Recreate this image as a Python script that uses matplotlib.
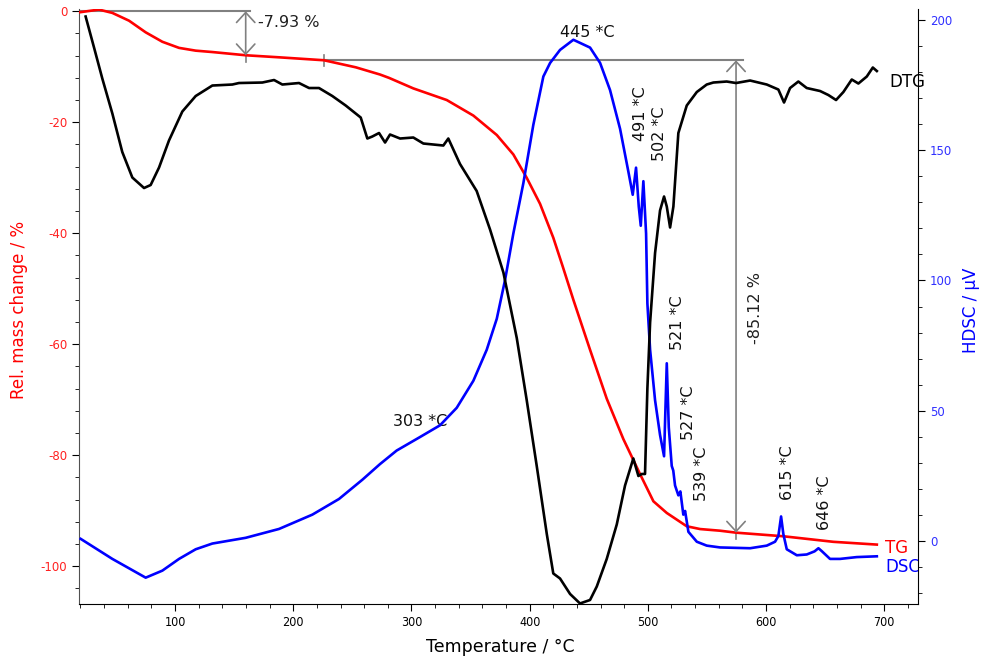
import matplotlib
matplotlib.use('Agg')
import matplotlib.pyplot as plt
from matplotlib.ticker import MultipleLocator

plt.rcParams['font.family'] = ['DejaVu Sans']
plt.rcParams['axes.unicode_minus'] = False

# --- TG (rel. mass change, %) ---
tg_T = [18.8, 35.7, 47, 61.1, 75.2, 89.3, 103.4, 117.5, 131.6, 159.8, 188, 226, 252.9,
        273.4, 281, 301.6, 329.9, 352.4, 372.2, 386.2, 397.5, 408.8, 420, 428, 437,
        451.1, 465.2, 479.3, 493.4, 504.7, 516, 532.9, 544.2, 561.1, 574.6, 614.6,
        656.9, 693.7]
tg = [-0.2, 0.3, -0.3, -1.7, -3.8, -5.5, -6.6, -7.1, -7.35, -7.93, -8.3, -8.83, -10.1,
      -11.4, -12.0, -13.9, -16.0, -18.8, -22.3, -25.8, -30.0, -34.7, -40.8, -46.0, -52.0,
      -61.0, -69.8, -77.1, -83.4, -88.3, -90.4, -92.8, -93.3, -93.6, -93.95, -94.6,
      -95.6, -96.1]

# --- DSC (uV) ---
dsc_T = [20.2, 47, 75.2, 89.3, 103.4, 117.5, 131.6, 159.8, 188, 216.2, 238.7, 258.5,
         273.4, 287.5, 307.3, 324.2, 338.3, 352.4, 363.7, 372.2, 379.2, 386.2, 394.7,
         403.1, 411.6, 417.3, 425.7, 437, 451.1, 459.6, 468, 476.5, 483.5, 487.2, 490,
         492.3, 494, 496.2, 498.5, 499.6, 501.9, 506.1, 510.3, 513.7, 516, 517.7, 520.2,
         521.5, 523, 525.8, 527.5, 530, 531.5, 534.3, 541.4, 549.8, 561.1, 586.5, 600.6,
         607.6, 610.4, 612.7, 614.6, 617.5, 626, 634.4, 641, 644.3, 647.1, 654.1, 662.6,
         676.7, 693.7]
dsc = [0.8, -6.9, -14.1, -11.4, -6.9, -3.2, -1.0, 1.2, 4.6, 10.1, 16.1, 23.5,
       29.5, 34.7, 39.9, 44.4, 51.1, 61.5, 73.4, 85.3, 100.2, 118.0, 137.4,
       159.7, 178.3, 183.5, 188.5, 192.4, 189.4, 183.5, 173.1, 158.2, 141.8, 132.9, 143.3,
       128.4, 121.0, 138.1, 118.0, 91.2, 73.4, 54.0, 40.7, 32.5, 68.2, 43.6, 28.8,
       27.0, 21.3, 17.5, 19.0, 10.1, 11.5, 3.5, -0.3, -1.8, -2.5, -2.8, -1.8,
       -0.3, 1.9, 9.4, 2.7, -3.2, -5.5, -5.2, -4.0, -2.8, -3.9, -6.9, -6.9,
       -6.2, -5.9]

# --- DTG (%/min, own hidden scale) ---
dtg_T = [24.4, 31.5, 38.5, 47, 55.4, 63.9, 73.8, 79.4, 86.5, 94.9, 106.2, 117.5, 131.6,
         148.5, 154.1, 173.9, 183.8, 190.8, 204.9, 213.4, 221.8, 233.1, 244.4, 257.1,
         262.7, 266.9, 272.6, 277.7, 281.9, 290.4, 301.6, 310.1, 327, 331.2, 341.1,
         355.2, 366.5, 377.8, 389.1, 397.5, 406, 414.5, 420, 425.7, 434.2, 442.6, 451.1,
         456.8, 465.2, 473.7, 480.7, 487.7, 492, 494.8, 497.6, 499.6, 501.9, 506.1,
         510.3, 513.7, 516, 518.8, 521.6, 525.8, 532.9, 541.4, 549.8, 555.4, 566.7,
         574.6, 586.5, 600.6, 610.4, 615.2, 620.3, 627.3, 634.4, 645.7, 652.7, 659.2,
         665.4, 672.5, 678.1, 685.2, 690.3, 693.7]
dtg = [0.35, -0.27, -0.89, -1.59, -2.36, -2.87, -3.08, -3.02, -2.67, -2.13, -1.55, -1.24,
       -1.03, -1.01, -0.98, -0.97, -0.92, -1.01, -0.98, -1.08, -1.08, -1.24, -1.43, -1.67,
       -2.09, -2.05, -1.98, -2.17, -2.01, -2.09, -2.07, -2.19, -2.23, -2.09, -2.60,
       -3.14, -3.91, -4.77, -6.08, -7.32, -8.64, -10.0, -10.79, -10.89, -11.2, -11.39,
       -11.32, -11.05, -10.5, -9.81, -9.03, -8.49, -8.84, -8.80, -8.80, -7.09, -5.77,
       -4.38, -3.53, -3.25, -3.45, -3.87, -3.45, -1.98, -1.43, -1.16, -1.01, -0.97,
       -0.95, -0.98, -0.93, -1.01, -1.11, -1.37, -1.08, -0.95, -1.08, -1.14, -1.22,
       -1.32, -1.16, -0.91, -0.99, -0.85, -0.67, -0.74]

# mass loss steps: (start T, end T, start value, change)
step1 = (18.8, 159.8, 0.0, -7.93)
step2 = (226, 574.6, -8.83, -85.12)

# peak labels: (text, T, y on TG scale, rotation)
peak_labels = [
    ('445 *C', 425.7, -3.8, 0),
    ('303 *C', 284.4, -73.9, 0),
    ('491 *C', 493.4, -18.4, 90),
    ('502 *C', 509.5, -22.0, 90),
    ('521 *C', 524.7, -56.2, 90),
    ('527 *C', 534.0, -72.4, 90),
    ('539 *C', 545.0, -83.4, 90),
    ('615 *C', 617.8, -83.2, 90),
    ('646 *C', 649.1, -88.5, 90),
]

fig = plt.figure(figsize=(9.84, 6.64), dpi=100)
ax = fig.add_axes([0.0803, 0.0904, 0.8526, 0.8960])
ax2 = ax.twinx()
ax3 = ax.twinx()

ax.set_xlim(18.8, 728.5)
ax.set_ylim(-106.8, 0.4)
ax2.set_ylim(-24.2, 204.2)
ax3.set_ylim(-11.4, 0.5)
ax3.set_axis_off()

ax.plot(tg_T, tg, color='#ff0000', lw=1.9, zorder=3)
ax3.plot(dtg_T, dtg, color='black', lw=1.9)
ax2.plot(dsc_T, dsc, color='#0000ff', lw=1.9)

# axes styling
for a in (ax, ax2):
    a.spines['top'].set_visible(False)
ax.spines['right'].set_visible(False)
ax2.spines['left'].set_visible(False)
ax2.spines['bottom'].set_visible(False)
ax.spines['left'].set_color('#505050')

ax.xaxis.set_major_locator(MultipleLocator(100))
ax.xaxis.set_minor_locator(MultipleLocator(20))
ax.yaxis.set_major_locator(MultipleLocator(20))
ax.yaxis.set_minor_locator(MultipleLocator(4))
ax2.yaxis.set_major_locator(MultipleLocator(50))
ax2.yaxis.set_minor_locator(MultipleLocator(10))

ax.tick_params(axis='x', which='major', length=5, labelsize=9, pad=4)
ax.tick_params(axis='x', which='minor', length=3)
ax.tick_params(axis='y', which='major', length=5, labelsize=8.5, labelcolor='#ff2020')
ax.tick_params(axis='y', which='minor', length=3)
ax2.tick_params(axis='y', which='major', length=5, labelsize=8.5, labelcolor='#3030ff')
ax2.tick_params(axis='y', which='minor', length=3)
for lab in ax.get_xticklabels():
    lab.set_stretch('condensed')

ax.set_xlabel('Temperature / °C', fontsize=12.5)
ax.xaxis.set_label_coords(0.502, -0.058)
ax.set_ylabel('Rel. mass change / %', fontsize=12, color='#ff0000')
ax.yaxis.set_label_coords(-0.061, 0.494)
ax2.set_ylabel('HDSC / μV', fontsize=12, color='#0000ff')
ax2.yaxis.set_label_coords(1.053, 0.494)

# measurement markers
gray = '#808080'
arrow = dict(arrowstyle='<->, head_length=0.6, head_width=0.55', color=gray, lw=1.2,
             shrinkA=0, shrinkB=0, mutation_scale=12)
t0, t1, m0, dm = step1
ax.plot([t0, t1 + 4], [m0, m0], color=gray, lw=1.5, zorder=2)
ax.annotate('', xy=(t1, m0 + dm), xytext=(t1, m0), arrowprops=arrow)
ax.plot([t1, t1], [m0 + dm, m0 + dm - 1.2], color=gray, lw=1.2)
ax.text(t1 + 10.5, m0 - 2.0, '%.2f %%' % dm, fontsize=11.5, color='#202020',
        ha='left', va='center')

t0, t1, m0, dm = step2
ax.plot([t0, t1 + 6], [m0, m0], color=gray, lw=1.5, zorder=2)
ax.plot([t0, t0], [m0 + 0.9, m0 - 1.0], color=gray, lw=1.2)
ax.annotate('', xy=(t1, m0 + dm), xytext=(t1, m0), arrowprops=arrow)
ax.plot([t1, t1], [m0 + dm, m0 + dm - 1.2], color=gray, lw=1.2)
ax.text(t1 + 16.5, -53.5, '%.2f %%' % dm, fontsize=11.5, color='#202020',
        ha='center', va='center', rotation=90)

for txt, tx, ty, rot in peak_labels:
    ax.text(tx, ty, txt, fontsize=11.5, color='#101010', rotation=rot,
            ha='left' if rot == 0 else 'center', va='center')

ax.text(704, -12.8, 'DTG', fontsize=12, color='black', ha='left', va='center')
ax.text(700.7, -96.8, 'TG', fontsize=12, color='#ff0000', ha='left', va='center')
ax.text(700.7, -100.2, 'DSC', fontsize=12, color='#0000ff', ha='left', va='center')

fig.savefig('out.png', dpi=100)
